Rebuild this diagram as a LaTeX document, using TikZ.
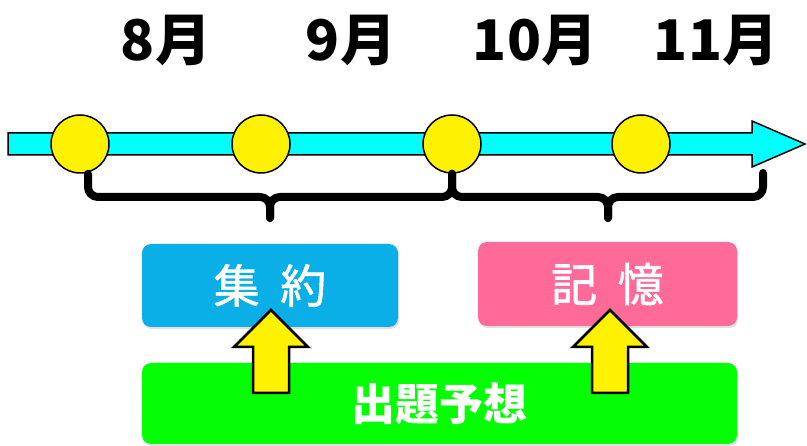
\documentclass[tikz,border=0pt]{standalone}
\usepackage{fontspec}
\setmainfont{Noto Sans CJK JP}
\newfontfamily\medcjk{Noto Sans CJK JP}[FakeBold=1.3]
\usetikzlibrary{shadows}
\definecolor{barcyan}{RGB}{0,255,255}
\definecolor{boxblue}{RGB}{11,175,232}
\definecolor{boxpink}{RGB}{255,106,153}
\definecolor{boxgreen}{RGB}{4,255,4}
\tikzset{
  dot/.style={circle,draw=black,line width=1.5pt,fill=yellow,minimum size=58pt,inner sep=0pt},
  brace/.style={line width=8pt,line cap=round,rounded corners=10pt},
  month/.style={font=\bfseries\fontsize{56pt}{60pt}\selectfont},
  box/.style={rounded corners=9pt,text=white,inner sep=0pt,
    drop shadow={shadow xshift=1pt,shadow yshift=-2pt,opacity=.25}},
}
\begin{document}
\begin{tikzpicture}[x=1pt,y=-1pt]
  \useasboundingbox (0,0) rectangle (807,446);
  % time line
  \draw[line width=1.5pt,fill=barcyan] (8,133) -- (752,133) -- (752,121) -- (805,144)
    -- (752,167) -- (752,155) -- (8,155) -- cycle;
  \foreach \n/\x in {a/80,b/261,c/452,d/641}
    \node[dot] (\n) at (\x,144) {};
  \foreach \t/\x in {8/166,9/351,10/535,11/716}
    \node[month] (m\t) at (\x,40) {\t 月};

  % braces
  \coordinate (e) at (763,173);
  \draw[brace] ([xshift=8pt]a.south) |- (270,197) -- (270,218);
  \draw[brace] (270,218) -- (270,197) -| (c.south);
  \draw[brace] (c.south) |- (608,197) -- (608,218);
  \draw[brace] (608,218) -- (608,197) -| (e);

  % boxes
  \node[box,fill=boxblue,minimum width=256pt,minimum height=83pt,
    font=\medcjk\fontsize{46pt}{50pt}\selectfont] (shu) at (270,285.5) {集\hspace{0.45em}約};
  \node[box,fill=boxpink,minimum width=259pt,minimum height=84pt,
    font=\medcjk\fontsize{46pt}{50pt}\selectfont] (ki) at (607.5,284) {記\hspace{0.45em}憶};
  \node[box,fill=boxgreen,minimum width=595pt,minimum height=81pt,
    font=\bfseries\fontsize{44pt}{48pt}\selectfont] (yoso) at (439.5,403.5) {\raisebox{-4pt}{出題予想}};

  \foreach \x in {271,610}
    \draw[line width=2.5pt,fill=yellow] (\x-18,393) -- (\x-18,347) -- (\x-37,347) -- (\x,310)
      -- (\x+37,347) -- (\x+18,347) -- (\x+18,393) -- cycle;

\end{tikzpicture}
\end{document}
